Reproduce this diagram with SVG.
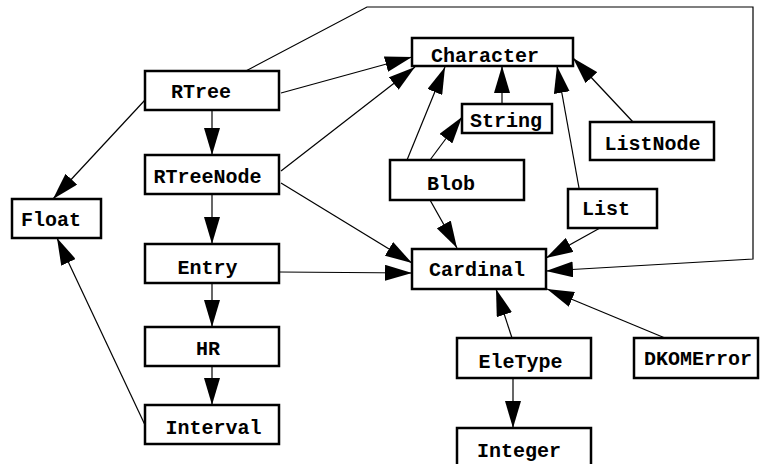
<svg xmlns="http://www.w3.org/2000/svg" width="760" height="464" viewBox="0 0 760 464">
  <style>
    .box { fill: #fff; stroke: #000; stroke-width: 2.5; }
    .lbl { font-family: "Liberation Mono", "Courier New", monospace; font-weight: bold; font-size: 20px; fill: #000; text-anchor: middle; }
    .edge { fill: none; stroke: #000; stroke-width: 1.2; marker-end: url(#head); }
  </style>
  <defs>
    <marker id="head" viewBox="0 0 27 16" markerWidth="27" markerHeight="16" refX="27" refY="8" orient="auto" markerUnits="userSpaceOnUse">
      <path d="M0,0 L27,8 L0,16 Z" fill="#000"/>
    </marker>
  </defs>
  <rect width="760" height="464" fill="#fff"/>

  <!-- connectors -->
  <g id="edges">
    <line class="edge" x1="281" y1="93" x2="412" y2="57"/>
    <line class="edge" x1="212" y1="110" x2="212" y2="155"/>
    <line class="edge" x1="145" y1="100" x2="53" y2="199"/>
    <polyline class="edge" points="242,73 367,7 753,7 753,259 546,271"/>
    <line class="edge" x1="281" y1="171" x2="415" y2="67"/>
    <line class="edge" x1="212" y1="194" x2="212" y2="244"/>
    <line class="edge" x1="281" y1="183" x2="412" y2="263"/>
    <line class="edge" x1="279" y1="272" x2="412" y2="273"/>
    <line class="edge" x1="212" y1="283" x2="212" y2="327"/>
    <line class="edge" x1="212" y1="366" x2="212" y2="405"/>
    <line class="edge" x1="145" y1="425" x2="57" y2="238"/>
    <line class="edge" x1="407" y1="160" x2="445" y2="67"/>
    <line class="edge" x1="430" y1="160" x2="462" y2="117"/>
    <line class="edge" x1="430" y1="200" x2="457" y2="248"/>
    <line class="edge" x1="502" y1="104" x2="502" y2="66"/>
    <line class="edge" x1="579" y1="188" x2="557" y2="66"/>
    <line class="edge" x1="600" y1="228" x2="546" y2="258"/>
    <line class="edge" x1="633" y1="122" x2="573" y2="58"/>
    <line class="edge" x1="512" y1="338" x2="496" y2="289"/>
    <line class="edge" x1="513" y1="378" x2="513" y2="428"/>
    <line class="edge" x1="665" y1="338" x2="547" y2="289"/>
  </g>

  <!-- nodes -->
  <g id="RTree"><rect class="box" x="145" y="71" width="134" height="39"/><text class="lbl" x="201" y="98">RTree</text></g>
  <g id="RTreeNode"><rect class="box" x="145" y="155" width="134" height="39"/><text class="lbl" x="207.5" y="183">RTreeNode</text></g>
  <g id="Float"><rect class="box" x="12" y="199" width="89" height="39"/><text class="lbl" x="51" y="226">Float</text></g>
  <g id="Entry"><rect class="box" x="145" y="244" width="134" height="39"/><text class="lbl" x="207.5" y="274">Entry</text></g>
  <g id="HR"><rect class="box" x="145" y="327" width="134" height="39"/><text class="lbl" x="208" y="355">HR</text></g>
  <g id="Interval"><rect class="box" x="145" y="405" width="134" height="39"/><text class="lbl" x="213.5" y="434">Interval</text></g>
  <g id="Character"><rect class="box" x="412" y="38" width="161" height="28"/><text class="lbl" x="485" y="62">Character</text></g>
  <g id="String"><rect class="box" x="462" y="104" width="90" height="29"/><text class="lbl" x="506" y="127">String</text></g>
  <g id="ListNode"><rect class="box" x="590" y="122" width="124" height="38"/><text class="lbl" x="652.5" y="150">ListNode</text></g>
  <g id="Blob"><rect class="box" x="390" y="160" width="134" height="40"/><text class="lbl" x="451" y="190">Blob</text></g>
  <g id="List"><rect class="box" x="568" y="189" width="89" height="39"/><text class="lbl" x="606" y="215">List</text></g>
  <g id="Cardinal"><rect class="box" x="412" y="249" width="134" height="40"/><text class="lbl" x="477" y="276">Cardinal</text></g>
  <g id="EleType"><rect class="box" x="457" y="338" width="134" height="40"/><text class="lbl" x="520.5" y="368">EleType</text></g>
  <g id="DKOMError"><rect class="box" x="634" y="338" width="124" height="40"/><text class="lbl" x="698" y="365">DKOMError</text></g>
  <g id="Integer"><rect class="box" x="457" y="428" width="134" height="40"/><text class="lbl" x="519" y="457">Integer</text></g>
</svg>
